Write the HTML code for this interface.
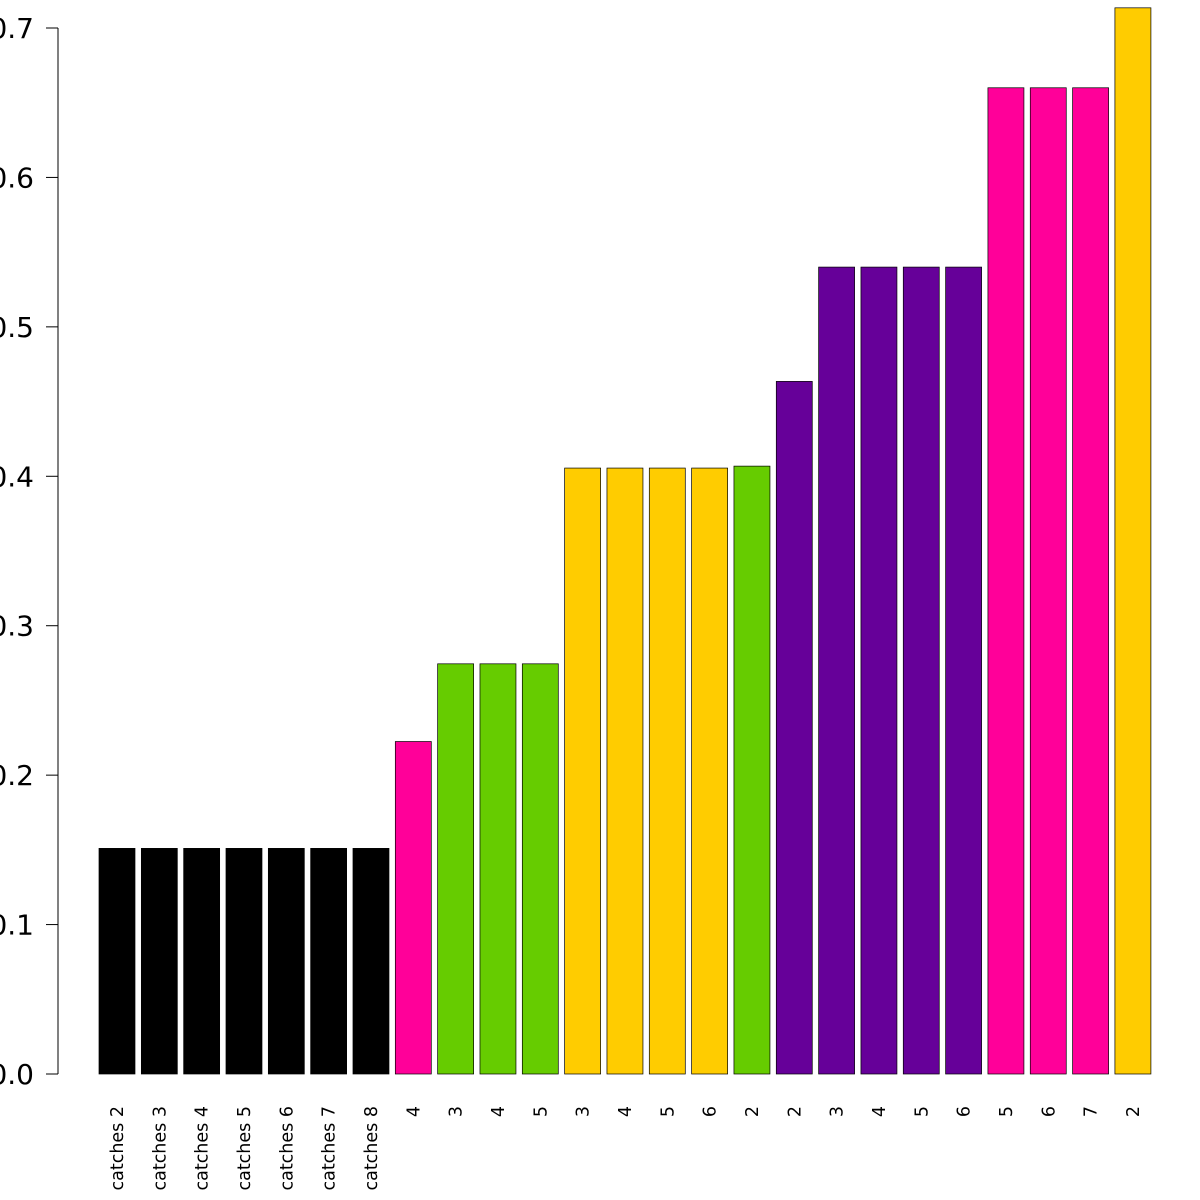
<!DOCTYPE html>
<html>
<head>
<meta charset="utf-8">
<style>
html,body{margin:0;padding:0;background:#fff;}
svg{display:block;font-family:"DejaVu Sans","Liberation Sans",sans-serif;}
</style>
</head>
<body>
<svg id="chart" width="1200" height="1200" viewBox="0 0 1200 1200">
<g id="yaxis"></g>
<g id="bars"></g>
<g id="xlabels"></g>
</svg>
<script>
const categories = ["catches 2","catches 3","catches 4","catches 5","catches 6","catches 7","catches 8","4","3","4","5","3","4","5","6","2","2","3","4","5","6","5","6","7","2"];
const values = [0.151,0.151,0.151,0.151,0.151,0.151,0.151,0.2225,0.2745,0.2745,0.2745,0.4055,0.4055,0.4055,0.4055,0.4068,0.4635,0.54,0.54,0.54,0.54,0.66,0.66,0.66,0.7135];
const groups = ["k","k","k","k","k","k","k","p","g","g","g","y","y","y","y","g","v","v","v","v","v","p","p","p","y"];
const yTicks = [0,0.1,0.2,0.3,0.4,0.5,0.6,0.7];
const yTickLabels = ["0.0","0.1","0.2","0.3","0.4","0.5","0.6","0.7"];
const palette = {k:"#000000",p:"#FF0099",g:"#66CC00",y:"#FFCC00",v:"#660099"};

const NS="http://www.w3.org/2000/svg";
const y0=1074, yTop=28, vTop=0.7;
function yScale(v){return y0-(y0-yTop)*v/vTop;}
const x0=99, step=42.33, bw=36;
function xScale(i){return x0+i*step;}
function mk(t,a,p){const e=document.createElementNS(NS,t);for(const k in a)e.setAttribute(k,a[k]);p.appendChild(e);return e;}

const ya=document.getElementById('yaxis');
const axl=mk('line',{x1:58,x2:58,y1:yScale(yTicks[0]),y2:yScale(yTicks[yTicks.length-1]),stroke:'#000','stroke-width':1},ya);


yTicks.forEach((t,i)=>{
  const y=yScale(t);
  const tk=mk('line',{x1:46,x2:58,y1:y,y2:y,stroke:'#000','stroke-width':1},ya);
  
  
  const tx=mk('text',{x:34,y:y+10,'text-anchor':'end','font-size':28,fill:'#000'},ya);
  tx.textContent=yTickLabels[i];
  
  
});

const bg=document.getElementById('bars');
const xl=document.getElementById('xlabels');
values.forEach((v,i)=>{
  const x=xScale(i), y=yScale(v);
  const r=mk('rect',{x:x,y:y,width:bw,height:y0-y,fill:palette[groups[i]],stroke:'#000','stroke-width':0.7},bg);
  
  
  const cx=x+bw/2+6, ty=1106;
  const t=mk('text',{x:cx,y:ty,'text-anchor':'end','font-size':17.5,fill:'#000',transform:`rotate(-90 ${cx} ${ty})`},xl);
  t.textContent=categories[i];
  
  
});
</script>
</body>
</html>
